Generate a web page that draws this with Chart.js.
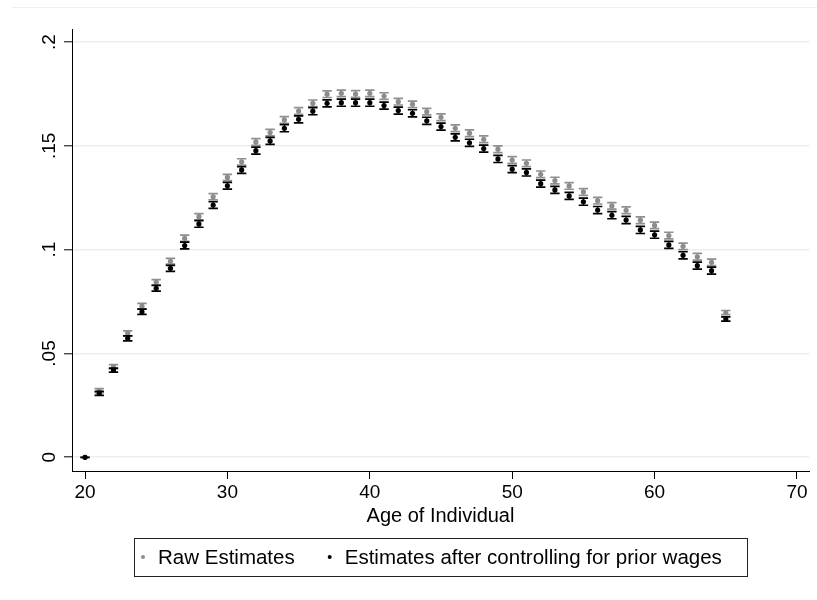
<!DOCTYPE html>
<html>
<head>
<meta charset="utf-8">
<script src="https://cdn.jsdelivr.net/npm/chart.js@4.4.1/dist/chart.umd.min.js"></script>
<style>
  html, body { margin: 0; padding: 0; background: #ffffff; }
  #wrap { width: 817px; height: 600px; }
</style>
</head>
<body>
<div id="wrap"><canvas id="c" width="817" height="600"></canvas></div>
<script>
// ---- Data ----
const ages = [20,21,22,23,24,25,26,27,28,29,30,31,32,33,34,35,36,37,38,39,40,41,42,43,44,45,46,47,48,49,50,51,52,53,54,55,56,57,58,59,60,61,62,63,64,65];

const rawEstimates = [0,0.0321,0.0436,0.0597,0.0728,0.0843,0.0944,0.1055,0.1159,0.1255,0.1348,0.1423,0.1519,0.1564,0.1625,0.1668,0.1705,0.1749,0.1753,0.1750,0.1753,0.1740,0.1713,0.1700,0.1665,0.1638,0.1585,0.1561,0.1532,0.1484,0.1432,0.1416,0.1363,0.1333,0.1307,0.1278,0.1236,0.1211,0.1190,0.1142,0.1117,0.1068,0.1016,0.0966,0.0939,0.0697];

const controlledEstimates = [0,0.0308,0.0420,0.0573,0.0701,0.0814,0.0910,0.1020,0.1124,0.1215,0.1308,0.1384,0.1477,0.1524,0.1585,0.1628,0.1667,0.1705,0.1708,0.1708,0.1708,0.1694,0.1670,0.1657,0.1621,0.1593,0.1541,0.1515,0.1487,0.1437,0.1388,0.1372,0.1318,0.1288,0.1259,0.1231,0.1191,0.1166,0.1143,0.1095,0.1072,0.1023,0.0973,0.0923,0.0899,0.0666];

// half-width of the confidence intervals
const rawCI = [0,0.0010,0.0010,0.0012,0.0013,0.0013,0.0014,0.0015,0.0015,0.0015,0.0015,0.0015,0.0016,0.0016,0.0016,0.0016,0.0016,0.0016,0.0016,0.0016,0.0016,0.0016,0.0016,0.0016,0.0016,0.0016,0.0016,0.0016,0.0016,0.0016,0.0016,0.0016,0.0016,0.0016,0.0016,0.0016,0.0016,0.0016,0.0016,0.0016,0.0016,0.0016,0.0016,0.0016,0.0016,0.0010];
const controlledCI = [0,0.0010,0.0010,0.0012,0.0013,0.0014,0.0014,0.0016,0.0016,0.0016,0.0016,0.0016,0.0017,0.0017,0.0017,0.0017,0.0017,0.0017,0.0017,0.0017,0.0017,0.0017,0.0017,0.0017,0.0017,0.0017,0.0017,0.0017,0.0017,0.0017,0.0017,0.0017,0.0017,0.0017,0.0017,0.0017,0.0017,0.0017,0.0017,0.0017,0.0017,0.0017,0.0017,0.0017,0.0017,0.0010];

const seriesLabels = ["Raw Estimates", "Estimates after controlling for prior wages"];
const xTickValues = [20, 30, 40, 50, 60, 70];
const yTickValues = [0, 0.05, 0.1, 0.15, 0.2];
const yTickLabels = ["0", ".05", ".1", ".15", ".2"];
const xAxisTitle = "Age of Individual";

// ---- Styling ----
const FONT = "'Liberation Sans', Arial, sans-serif";
const GRAY = "#8c8c8c";
const BLACK = "#000000";

const toPoints = (vals) => ages.map((a, i) => ({ x: a, y: vals[i] }));
const ciBySeries = [rawCI, controlledCI];
const capColors = ["#8f8f8f", "#000000"];

const errorBars = {
  id: 'errorBars',
  beforeDatasetDraw(chart, args) {
    const ds = chart.data.datasets[args.index];
    const err = ciBySeries[args.index];
    const xs = chart.scales.x, ys = chart.scales.y;
    const ctx = chart.ctx;
    ctx.save();
    ctx.strokeStyle = capColors[args.index];
    const hw = 4.7;
    ds.data.forEach((p, i) => {
      const x = xs.getPixelForValue(p.x);
      const yt = ys.getPixelForValue(p.y + err[i]);
      const yb = ys.getPixelForValue(p.y - err[i]);
      ctx.lineWidth = 1.7;
      ctx.beginPath();
      ctx.moveTo(x - hw, yt); ctx.lineTo(x + hw, yt);
      ctx.moveTo(x - hw, yb); ctx.lineTo(x + hw, yb);
      ctx.stroke();
      ctx.lineWidth = 1;
      ctx.beginPath();
      ctx.moveTo(x, yt); ctx.lineTo(x, yb);
      ctx.stroke();
    });
    ctx.restore();
  }
};

const decorations = {
  id: 'decorations',
  beforeDraw(chart) {
    const ctx = chart.ctx;
    ctx.save();
    ctx.strokeStyle = "#eeeeee";
    ctx.lineWidth = 1;
    ctx.beginPath();
    ctx.moveTo(12, 7.5); ctx.lineTo(817, 7.5);
    ctx.stroke();
    ctx.restore();
  },
  afterDraw(chart) {
    const ctx = chart.ctx;
    const ys = chart.scales.y;
    ctx.save();
    // rotated y tick labels
    ctx.fillStyle = "#000";
    ctx.font = "19px " + FONT;
    ctx.textAlign = "center";
    ctx.textBaseline = "middle";
    yTickValues.forEach((v, i) => {
      const y = ys.getPixelForValue(v);
      ctx.save();
      ctx.translate(50, y);
      ctx.rotate(-Math.PI / 2);
      ctx.fillText(yTickLabels[i], 0, 0);
      ctx.restore();
    });
    // legend box
    const bx = 134, by = 538, bw = 613, bh = 38;
    ctx.strokeStyle = "#222";
    ctx.lineWidth = 1;
    ctx.strokeRect(bx + 0.5, by + 0.5, bw, bh);
    ctx.font = "20.5px " + FONT;
    ctx.textAlign = "left";
    ctx.textBaseline = "middle";
    const cy = by + bh / 2;
    const colors = [GRAY, BLACK];
    let x = bx + 9;
    seriesLabels.forEach((lab, i) => {
      ctx.fillStyle = colors[i];
      ctx.beginPath();
      ctx.arc(x, cy, 2, 0, Math.PI * 2);
      ctx.fill();
      ctx.fillStyle = "#000";
      ctx.fillText(lab, x + 15, cy + 1);
      x = x + 15 + ctx.measureText(lab).width + 35;
    });
    ctx.restore();
  }
};

const chart = new Chart(document.getElementById('c'), {
  type: 'scatter',
  data: {
    datasets: [
      { label: seriesLabels[0], data: toPoints(rawEstimates), order: 2,
        backgroundColor: GRAY, borderColor: GRAY, pointRadius: 2.6, pointBorderWidth: 0 },
      { label: seriesLabels[1], data: toPoints(controlledEstimates), order: 1,
        backgroundColor: BLACK, borderColor: BLACK, pointRadius: 2.6, pointBorderWidth: 0 }
    ]
  },
  options: {
    responsive: false,
    animation: false,
    devicePixelRatio: 1,
    layout: { padding: { left: 0, right: 8, top: 29, bottom: 70 } },
    plugins: { legend: { display: false }, tooltip: { enabled: false } },
    scales: {
      x: {
        type: 'linear',
        min: 19.087, max: 70.843,
        afterBuildTicks: (s) => { s.ticks = xTickValues.map(v => ({ value: v })); },
        afterFit: (s) => { s.height = 59; },
        ticks: { color: '#000', font: { size: 19, family: FONT }, padding: 2, maxRotation: 0, autoSkip: false },
        grid: { drawOnChartArea: false, drawTicks: true, tickLength: 8, color: '#000', tickColor: '#000' },
        border: { display: true, color: '#000', width: 1 },
        title: { display: true, text: xAxisTitle, color: '#000', font: { size: 20, family: FONT }, padding: { top: 0, bottom: 2 } }
      },
      y: {
        type: 'linear',
        min: -0.0066, max: 0.2063,
        afterBuildTicks: (s) => { s.ticks = yTickValues.map(v => ({ value: v })); },
        afterFit: (s) => { s.width = 72; },
        ticks: { display: false },
        grid: { drawOnChartArea: true, drawTicks: true, tickLength: 8, color: '#e9eff1', lineWidth: 1.6, tickColor: '#000', tickWidth: 1 },
        border: { display: true, color: '#000', width: 1 }
      }
    }
  },
  plugins: [errorBars, decorations]
});
</script>
</body>
</html>
